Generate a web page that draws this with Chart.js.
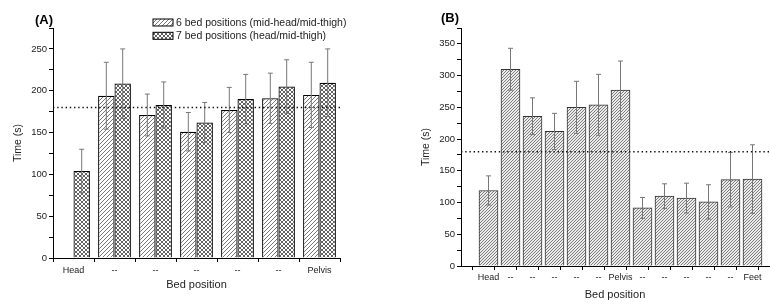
<!DOCTYPE html>
<html>
<head>
<meta charset="utf-8">
<script src="https://cdn.jsdelivr.net/npm/chart.js@4.4.1/dist/chart.umd.min.js"></script>
<style>
    body { margin: 0; background: #fff; }
    .panel { position: absolute; top: 0; width: 385px; height: 305px; }
    #panelA { left: 0; }
    #panelB { left: 385px; }
</style>
</head>
<body>
<div class="panel" id="panelA"><canvas id="chartA"></canvas></div>
<div class="panel" id="panelB"><canvas id="chartB"></canvas></div>
<script>
// Panel (A) data
const aLabels = ['Head', '--', '--', '--', '--', '--', 'Pelvis'];
const aSixBed = [null, 194, 171, 151, 177, 191, 195];
const aSixBedErr = [null, 40, 25, 23, 27, 30, 39];
const aSevenBed = [104, 208.5, 183, 162, 190, 205, 209.5];
const aSevenBedErr = [26, 41.5, 27.5, 24, 29.5, 32, 40.5];
const aSeriesNames = ['6 bed positions (mid-head/mid-thigh)', '7 bed positions (head/mid-thigh)'];

// Panel (B) data
const bLabels = ['Head', '--', '--', '--', '--', '--', 'Pelvis', '--', '--', '--', '--', '--', 'Feet'];
const bTimes = [119, 310, 236, 212, 250, 254, 277, 91.5, 110, 107, 101, 136, 137];
const bErrors = [23, 33, 29, 28.5, 41, 48, 46, 16.5, 19.5, 23.5, 27, 43, 54];

const threshold = 180;

const FONT = "'Liberation Sans', Arial, sans-serif";
Chart.defaults.font.family = FONT;
Chart.defaults.color = '#222';
Chart.defaults.animation = false;

// hatch fills
function makePattern(kind) {
    const size = kind === 'dense' ? 3 : 4;
    const c = document.createElement('canvas');
    c.width = size;
    c.height = size;
    const g = c.getContext('2d');
    g.fillStyle = kind === 'dense' ? '#ececec' : '#fff';
    g.fillRect(0, 0, size, size);
    g.strokeStyle = kind === 'cross' ? '#3a3a3a' : (kind === 'dense' ? '#707070' : '#555');
    g.lineWidth = kind === 'dense' ? 0.9 : 0.8;
    g.beginPath();
    g.moveTo(-1, size + 1); g.lineTo(size + 1, -1);
    g.moveTo(-1, 1); g.lineTo(1, -1);
    g.moveTo(size - 1, size + 1); g.lineTo(size + 1, size - 1);
    if (kind === 'cross') {
        g.moveTo(-1, -1); g.lineTo(size + 1, size + 1);
        g.moveTo(size - 1, -1); g.lineTo(size + 1, 1);
        g.moveTo(-1, size - 1); g.lineTo(1, size + 1);
    }
    g.stroke();
    return g.createPattern(c, 'repeat');
}

// error bars + dotted threshold line
const extrasPlugin = {
    id: 'extras',
    afterDatasetsDraw(chart) {
        const ctx = chart.ctx;
        const yScale = chart.scales.y;
        ctx.save();
        chart.data.datasets.forEach((ds, i) => {
            const meta = chart.getDatasetMeta(i);
            meta.data.forEach((bar, j) => {
                const err = ds.errors[j];
                const raw = ds.data[j];
                const v = raw && typeof raw === 'object' ? raw.y : raw;
                if (v == null || err == null) return;
                const top = yScale.getPixelForValue(v + err);
                const bot = yScale.getPixelForValue(v - err);
                ctx.strokeStyle = '#777';
                ctx.lineWidth = 1;
                ctx.beginPath();
                ctx.moveTo(bar.x, top); ctx.lineTo(bar.x, bot);
                ctx.moveTo(bar.x - 2.5, top); ctx.lineTo(bar.x + 2.5, top);
                ctx.moveTo(bar.x - 2.5, bot); ctx.lineTo(bar.x + 2.5, bot);
                ctx.stroke();
            });
        });
        const ty = yScale.getPixelForValue(threshold);
        ctx.strokeStyle = '#111';
        ctx.lineWidth = 1.4;
        ctx.setLineDash([1.4, 2.8]);
        ctx.beginPath();
        ctx.moveTo(chart.chartArea.left, ty);
        ctx.lineTo(chart.chartArea.right, ty);
        ctx.stroke();
        ctx.restore();
    },
    afterDraw(chart, args, opts) {
        const ctx = chart.ctx;
        ctx.save();
        ctx.fillStyle = '#000';
        ctx.font = `bold 13px ${FONT}`;
        ctx.textBaseline = 'middle';
        ctx.textAlign = 'center';
        ctx.fillText(opts.panel, opts.panelX, opts.panelY);
        if (opts.legend) {
            ctx.textAlign = 'left';
            ctx.font = `10.5px ${FONT}`;
            chart.data.datasets.forEach((ds, i) => {
                const y = 22.5 + i * 13.3;
                ctx.fillStyle = ds.backgroundColor;
                ctx.fillRect(153, y - 3.5, 20, 7);
                ctx.strokeStyle = '#000';
                ctx.lineWidth = 1;
                ctx.strokeRect(153, y - 3.5, 20, 7);
                ctx.fillStyle = '#222';
                ctx.fillText(ds.label, 176, y + 0.5);
            });
        }
        ctx.restore();
    }
};

function yAxis(max, width, titlePad) {
    return {
        min: 0,
        max: max,
        afterFit: s => { s.width = width; },
        border: { color: '#000', width: 1 },
        grid: { drawOnChartArea: false, tickLength: 4, tickColor: '#000' },
        ticks: {
            stepSize: 25,
            padding: 2,
            font: { size: 9.5 },
            callback: v => (v % 50 === 0 ? v : '')
        },
        title: {
            display: true, text: 'Time (s)',
            font: { size: 10.5 },
            padding: { top: titlePad, bottom: 0 }
        }
    };
}

// Panel A
const patDiag = makePattern('diag');
const patCross = makePattern('cross');
new Chart(document.getElementById('chartA'), {
    type: 'bar',
    data: {
        labels: aLabels,
        datasets: [
            {
                label: aSeriesNames[0], data: aSixBed, errors: aSixBedErr,
                backgroundColor: patDiag, borderColor: '#000', borderWidth: 1.2,
                categoryPercentage: 0.8, barPercentage: 1
            },
            {
                label: aSeriesNames[1], data: aSevenBed, errors: aSevenBedErr,
                backgroundColor: patCross, borderColor: '#000', borderWidth: 1.2,
                categoryPercentage: 0.8, barPercentage: 1
            }
        ]
    },
    options: {
        responsive: true,
        maintainAspectRatio: false,
        layout: { padding: { top: 28, right: 45, left: 0, bottom: 0 } },
        plugins: {
            legend: { display: false },
            tooltip: { enabled: false },
            extras: { panel: '(A)', panelX: 44, panelY: 20, legend: true }
        },
        scales: {
            x: {
                afterFit: s => { s.height = 47; },
                border: { color: '#000', width: 1 },
                grid: { offset: true, drawOnChartArea: false, tickLength: 4, tickColor: '#000' },
                ticks: { font: { size: 9 }, padding: 3, maxRotation: 0, autoSkip: false },
                title: { display: true, text: 'Bed position', font: { size: 11 }, padding: { top: 0, bottom: 13 } }
            },
            y: yAxis(275, 53, 12)
        }
    },
    plugins: [extrasPlugin]
});

// Panel B
const patDense = makePattern('dense');
new Chart(document.getElementById('chartB'), {
    type: 'bar',
    data: {
        datasets: [{
            label: 'Time',
            data: bTimes.map((t, i) => ({ x: i + 1, y: t })),
            errors: bErrors,
            backgroundColor: patDense, borderColor: '#333', borderWidth: 1,
            barThickness: 19
        }]
    },
    options: {
        responsive: true,
        maintainAspectRatio: false,
        layout: { padding: { top: 28, right: 1, left: 0, bottom: 0 } },
        plugins: {
            legend: { display: false },
            tooltip: { enabled: false },
            extras: { panel: '(B)', panelX: 65, panelY: 18, legend: false }
        },
        scales: {
            x: {
                type: 'linear',
                min: 0,
                max: bLabels.length + 0.5,
                afterFit: s => { s.height = 39; },
                border: { color: '#000', width: 1 },
                grid: {
                    drawOnChartArea: false, tickLength: 4,
                    tickColor: c => (c.tick && c.tick.value % 1 === 0.5 ? '#000' : 'rgba(0,0,0,0)')
                },
                ticks: {
                    stepSize: 0.5, autoSkip: false, maxRotation: 0, padding: 2,
                    font: { size: 9 },
                    callback: v => (Number.isInteger(v) && v >= 1 ? bLabels[v - 1] : '')
                },
                title: { display: true, text: 'Bed position', font: { size: 11 }, padding: { top: 0, bottom: 3 } }
            },
            y: yAxis(375, 76, 35)
        }
    },
    plugins: [extrasPlugin]
});
</script>
</body>
</html>
